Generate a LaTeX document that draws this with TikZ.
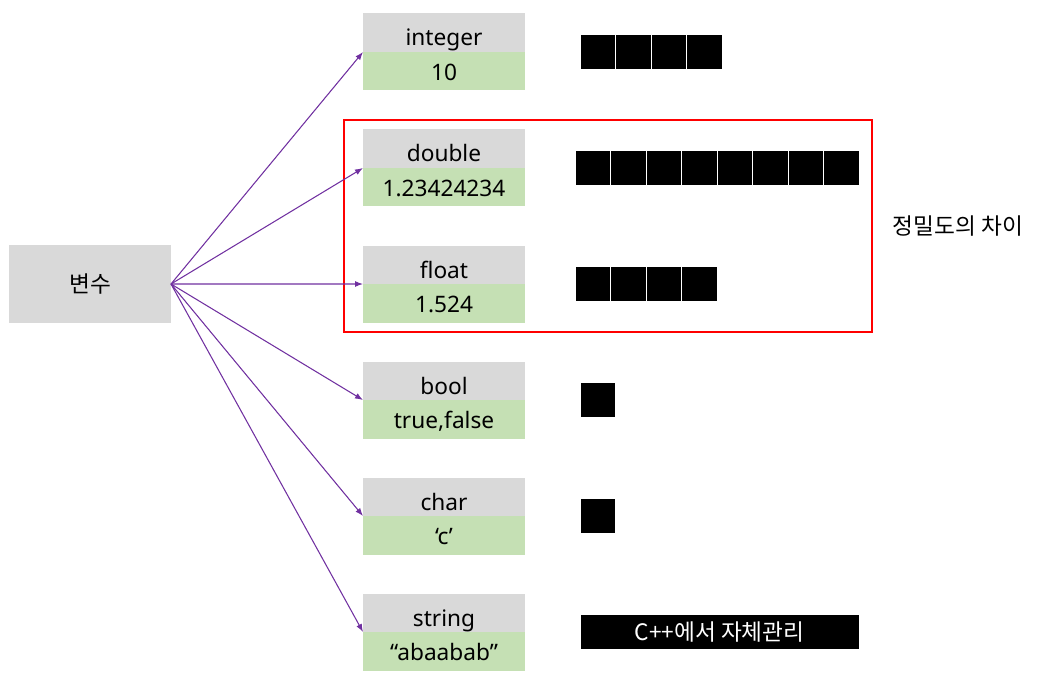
\documentclass[tikz,border=0pt]{standalone}
\usepackage{fontspec}
\setmainfont{Noto Sans}
\newfontfamily\kr{Noto Sans CJK KR}
\usetikzlibrary{arrows.meta, positioning}
\definecolor{kasten}{HTML}{D9D9D9}
\definecolor{wert}{HTML}{C5E0B4}
\definecolor{pfeil}{HTML}{7030A0}

\begin{document}
\begin{tikzpicture}[
    box/.style={fill=kasten, minimum width=3.24cm, minimum height=0.77cm,
                inner sep=0pt, outer sep=0pt, font=\fontsize{12.9}{15}\selectfont},
    typ/.style={box, text height=0.63cm, text depth=0.1cm},
    val/.style={box, fill=wert, text height=0.44cm, text depth=0.08cm},
    cell/.style={fill=black, draw=white, line width=0.5pt, minimum width=0.71cm,
                 minimum height=0.7cm, inner sep=0pt, outer sep=0pt},
    arr/.style={-{Latex[length=1.6mm, width=1.2mm]}, draw=pfeil, line width=0.6pt},
    node distance=0.78cm
  ]
  \useasboundingbox (0,0) rectangle (21.22,13.5);

  % Variable links
  \node[box, minimum height=1.56cm, font=\fontsize{12.9}{15}\selectfont\kr] (var) at (1.80,7.82) {변수};

  % Datentypen von oben nach unten
  \node[typ, anchor=south] (int) at (8.88,12.46) {integer};
  \node[val, below=0pt of int] (intval) {10};

  \node[typ, below=of intval] (dbl) {double};
  \node[val, below=0pt of dbl] (dblval) {1.23424234};

  \node[typ, below=of dblval] (flt) {float};
  \node[val, below=0pt of flt] (fltval) {1.524};

  \node[typ, below=of fltval] (bool) {bool};
  \node[val, below=0pt of bool] (boolval) {true,false};

  \node[typ, below=of boolval] (chr) {char};
  \node[val, below=0pt of chr] (chrval) {‘c’};

  \node[typ, below=of chrval] (str) {string};
  \node[val, below=0pt of str] (strval) {“abaabab”};

  % Speicherzellen
  \foreach \i in {1,...,4}
    \node[cell, anchor=west] (mint\i) at ([xshift=1.1cm+(\i-1)*0.71cm]int.south east) {};
  \foreach \i in {1,...,8}
    \node[cell, anchor=west] (mdbl\i) at ([xshift=1.0cm+(\i-1)*0.71cm]dbl.south east) {};
  \foreach \i in {1,...,4}
    \node[cell, anchor=west] (mflt\i) at ([xshift=1.0cm+(\i-1)*0.71cm]flt.south east) {};
  \node[cell, right=1.1cm of bool.south east] (mbool) {};
  \node[cell, right=1.1cm of chr.south east] (mchr) {};
  \node[cell, minimum width=5.58cm, text=white, right=1.1cm of str.south east,
        font=\fontsize{12.9}{15}\selectfont\kr] (mstr) {C++에서 자체관리};

  % Genauigkeit
  \node[draw=red, line width=0.6pt, minimum width=10.56cm, minimum height=4.24cm]
    (prec) at (12.16,8.98) {};
  \node[right=0.4cm of prec, inner sep=0pt, font=\fontsize{12.9}{15}\selectfont\kr]
    (precnote) {정밀도의 차이};

  % Pfeile
  \draw[arr] (var.east) -- (int.south west);
  \draw[arr] (var.east) -- (dbl.south west);
  \draw[arr] (var.east) -- (flt.south west);
  \draw[arr] (var.east) -- (bool.south west);
  \draw[arr] (var.east) -- (chr.south west);
  \draw[arr] (var.east) -- (str.south west);
\end{tikzpicture}
\end{document}
